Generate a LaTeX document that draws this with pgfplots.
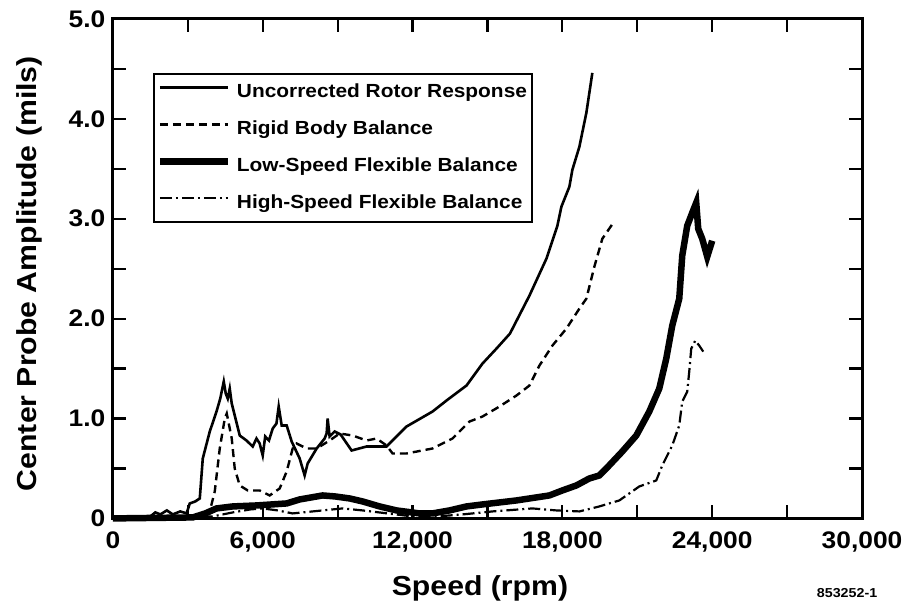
\documentclass[border=0pt]{standalone}
\usepackage{pgfplots}
\pgfplotsset{compat=1.18}
\usepackage{fontspec}
\setmainfont{Liberation Sans}[FakeStretch=1.1]
\begin{document}
\begin{tikzpicture}
\begin{axis}[
  scale only axis, width=750bp, height=500bp,
  xmin=0, xmax=30000, ymin=0, ymax=5,
  axis line style={line width=3bp},
  every tick/.style={line width=2.2bp, black},
  major tick length=13bp, minor tick length=13bp,
  tick align=inside,
  xtick={0,6000,12000,18000,24000,30000},
  xticklabels={0,{6,000},{12,000},{18,000},{24,000},{30,000}},
  minor xtick={3000,9000,15000,21000,27000},
  ytick={0,1,2,3,4,5},
  yticklabels={0,1.0,2.0,3.0,4.0,5.0},
  minor ytick={0.5,1.5,2.5,3.5,4.5},
  scaled x ticks=false,
  tick label style={font=\fontsize{24bp}{28bp}\selectfont\bfseries},
  xticklabel style={yshift=-10bp},
  yticklabel style={xshift=-4bp},
  xlabel={Speed (rpm)},
  ylabel={Center Probe Amplitude (mils)},
  label style={font=\fontsize{27.5bp}{30bp}\selectfont\bfseries},
  xlabel style={at={(axis description cs:0.49,-0.14)}, anchor=center},
  ylabel style={at={(axis description cs:-0.112,0.49)}, anchor=center},
  legend style={at={(axis description cs:0.053,0.892)}, anchor=north west,
    draw=black, line width=2bp, font=\fontsize{19bp}{21bp}\selectfont\bfseries,
    inner xsep=3bp, inner ysep=7.5bp, row sep=15bp, column sep=4bp,
    nodes={inner sep=2bp, text height=14bp, text depth=4bp},
    legend cell align=left},
  legend image code/.code={\draw[#1] (0bp,5bp) -- (68bp,5bp);},
  clip=false,
]
\addplot[black, line width=2.6bp] coordinates {
(0,0) (800,0.01) (1500,0.02) (1700,0.06) (1900,0.04) (2160,0.08) (2400,0.04)
(2700,0.07) (2950,0.05) (3080,0.15) (3300,0.17) (3480,0.2) (3600,0.6)
(3880,0.87) (4150,1.07) (4300,1.2) (4440,1.37) (4520,1.25) (4600,1.2)
(4680,1.3) (4760,1.15) (4880,1.03) (5080,0.83) (5350,0.78) (5600,0.72)
(5750,0.8) (5880,0.75) (6000,0.63) (6100,0.82) (6250,0.78) (6400,0.9)
(6550,0.95) (6640,1.12) (6760,0.93) (6960,0.93) (7160,0.77) (7480,0.6)
(7680,0.43) (7800,0.55) (8160,0.7) (8480,0.8) (8560,0.85) (8600,1.0)
(8680,0.82) (8880,0.87) (9120,0.84) (9560,0.68) (10160,0.72) (10960,0.72)
(11080,0.75) (11760,0.92) (12800,1.07) (13360,1.18) (14160,1.33)
(14800,1.55) (15360,1.7) (15900,1.85) (16680,2.23) (17360,2.6)
(17800,2.93) (17960,3.12) (18280,3.32) (18400,3.49) (18680,3.72)
(18960,4.06) (19200,4.46)
};
\addlegendentry{Uncorrected Rotor Response}
\addplot[black, line width=2.4bp, dash pattern=on 8bp off 5bp] coordinates {
(0,0) (2000,0.01) (3000,0.02) (3600,0.03) (3880,0.07) (4080,0.27)
(4280,0.7) (4480,1.0) (4560,1.05) (4760,0.8) (4880,0.5) (5080,0.33)
(5400,0.28) (5880,0.28) (6280,0.23) (6680,0.3) (6960,0.47) (7200,0.7)
(7360,0.75) (7760,0.7) (8160,0.7) (8680,0.78) (9080,0.85) (9600,0.83)
(10160,0.78) (10560,0.8) (10960,0.73) (11200,0.65) (11760,0.65)
(12800,0.7) (13600,0.8) (14280,0.97) (14800,1.02) (15480,1.12)
(16160,1.23) (16680,1.33) (17080,1.53) (17600,1.73) (18160,1.9)
(18680,2.1) (18960,2.2) (19280,2.52) (19600,2.8) (20040,2.96)
};
\addlegendentry{Rigid Body Balance}
\addplot[black, line width=6.5bp] coordinates {
(0,0) (3200,0.01) (3700,0.05) (4150,0.1) (4800,0.12) (5760,0.13)
(6960,0.15) (7480,0.19) (8400,0.23) (8900,0.22) (9480,0.2) (10000,0.17)
(10680,0.12) (11360,0.08) (12280,0.05) (12800,0.05) (13480,0.08)
(14160,0.12) (14800,0.14) (15480,0.16) (16160,0.18) (17480,0.23)
(18000,0.28) (18560,0.33) (19080,0.4) (19480,0.43) (19760,0.5)
(20400,0.67) (20960,0.83) (21480,1.07) (21880,1.3) (22160,1.6)
(22400,1.93) (22680,2.2) (22800,2.63) (23000,2.93) (23200,3.06)
(23360,3.16) (23440,2.9) (23600,2.8) (23800,2.62) (24000,2.78)
};
\addlegendentry{Low-Speed Flexible Balance}
\addplot[black, line width=2.2bp, dash pattern=on 12bp off 4bp on 2bp off 4bp] coordinates {
(0,0) (3000,0.01) (4000,0.02) (4800,0.06) (5500,0.09) (6000,0.1)
(6600,0.08) (7200,0.05) (8000,0.07) (9200,0.1) (10000,0.08)
(11000,0.05) (12000,0.02) (13000,0.02) (14000,0.04) (15200,0.07)
(16800,0.1) (17760,0.08) (18680,0.07) (19480,0.12) (20280,0.18)
(21080,0.32) (21760,0.38) (22000,0.53) (22400,0.73) (22680,0.93)
(22800,1.17) (23000,1.27) (23080,1.47) (23160,1.7) (23320,1.78)
(23480,1.73) (23640,1.67)
};
\addlegendentry{High-Speed Flexible Balance}
\node[font=\fontsize{13bp}{15bp}\selectfont\bfseries] at (axis description cs:0.98,-0.15) {853252-1};
\coordinate (SW) at (rel axis cs:0,0);
\coordinate (NE) at (rel axis cs:1,1);
\end{axis}
\pgfresetboundingbox
\path ([shift={(-113bp,-93bp)}]SW) rectangle ([shift={(44bp,19bp)}]NE);
\end{tikzpicture}
\end{document}
